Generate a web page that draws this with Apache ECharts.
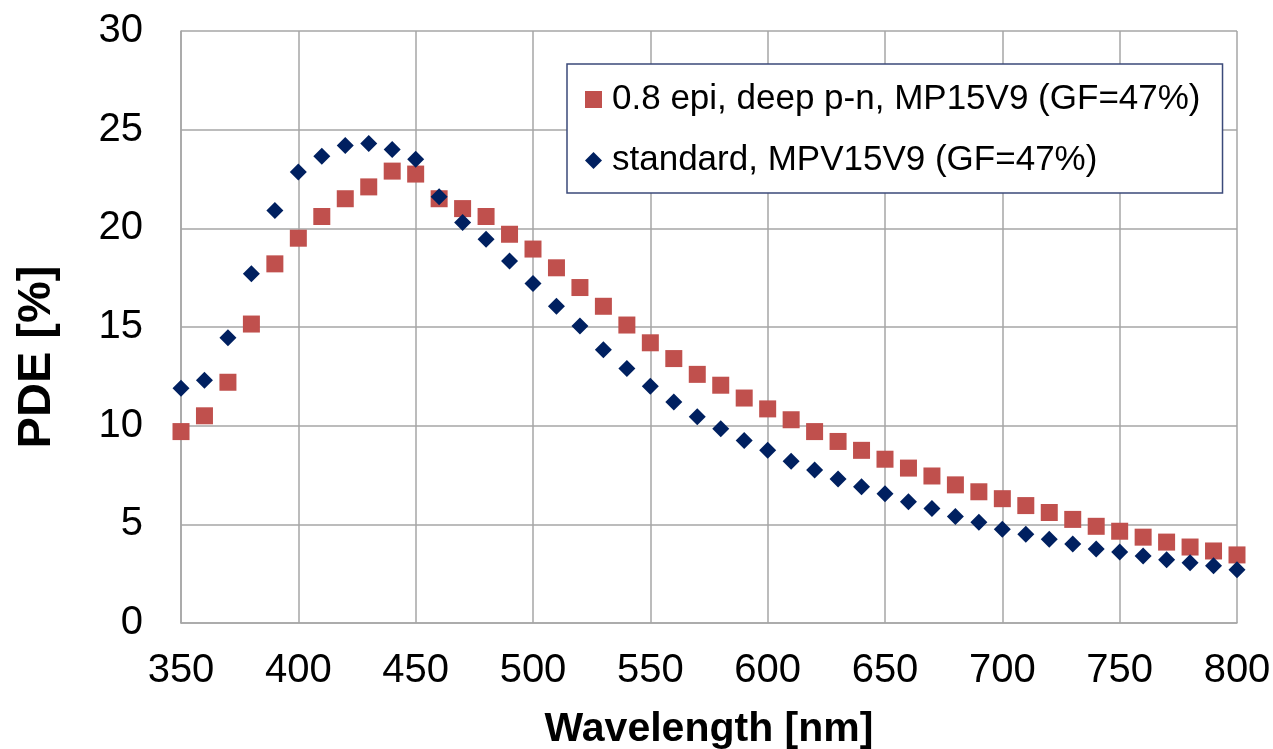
<!DOCTYPE html>
<html>
<head>
<meta charset="utf-8">
<title>PDE vs wavelength</title>
<script src="https://cdn.jsdelivr.net/npm/echarts@6/dist/echarts.min.js"></script>
<style>
  html, body { margin: 0; padding: 0; background: #fff; }
  #chart { width: 1273px; height: 749px; }
</style>
</head>
<body>
<div id="chart"></div>
<script>
// wavelength [nm]
var wavelength = [350, 360, 370, 380, 390, 400, 410, 420, 430, 440,
  450, 460, 470, 480, 490, 500, 510, 520, 530, 540,
  550, 560, 570, 580, 590, 600, 610, 620, 630, 640,
  650, 660, 670, 680, 690, 700, 710, 720, 730, 740,
  750, 760, 770, 780, 790, 800];

// 0.8 epi, deep p-n, MP15V9
var pdeEpi = [9.7, 10.5, 12.2, 15.15, 18.2, 19.5, 20.6, 21.5, 22.1, 22.9,
  22.75, 21.5, 21.0, 20.6, 19.7, 18.95, 18.0, 17.0, 16.05, 15.1,
  14.2, 13.4, 12.6, 12.05, 11.4, 10.85, 10.3, 9.7, 9.2, 8.75,
  8.3, 7.85, 7.45, 7.0, 6.65, 6.3, 5.95, 5.6, 5.25, 4.9,
  4.65, 4.35, 4.1, 3.85, 3.65, 3.45];

// standard, MPV15V9
var pdeStd = [11.9, 12.3, 14.45, 17.7, 20.9, 22.85, 23.65, 24.2, 24.3, 24.0,
  23.5, 21.6, 20.3, 19.45, 18.35, 17.2, 16.05, 15.05, 13.85, 12.9,
  12.0, 11.2, 10.45, 9.85, 9.25, 8.75, 8.2, 7.75, 7.3, 6.9,
  6.55, 6.15, 5.8, 5.4, 5.1, 4.75, 4.5, 4.25, 4.0, 3.75,
  3.6, 3.4, 3.2, 3.05, 2.9, 2.7];

var seriesNames = ['0.8 epi, deep p-n, MP15V9 (GF=47%)', 'standard, MPV15V9 (GF=47%)'];

function pairs(xs, ys) {
  var out = [];
  for (var i = 0; i < xs.length; i++) out.push([xs[i], ys[i]]);
  return out;
}

var font = 'Liberation Sans, Arial, sans-serif';
var gridColor = '#a6a6a6';

var chart = echarts.init(document.getElementById('chart'), null, { renderer: 'canvas' });

var option = {
  backgroundColor: '#ffffff',
  animation: false,
  grid: { left: 181, right: 36, top: 31, bottom: 126, outerBoundsMode: 'none', containLabel: false },
  legend: {
    orient: 'vertical',
    left: 567,
    top: 64,
    padding: [18, 22, 15, 18],
    itemGap: 26,
    itemWidth: 17,
    itemHeight: 17,
    backgroundColor: '#ffffff',
    borderColor: '#3b4a7a',
    borderWidth: 1.5,
    textStyle: { fontFamily: font, fontSize: 35, color: '#000', padding: [0, 0, 0, 5] },
    data: [
      { name: seriesNames[0], icon: 'rect' },
      { name: seriesNames[1], icon: 'diamond' }
    ]
  },
  xAxis: {
    type: 'value',
    min: 350,
    max: 800,
    interval: 50,
    name: 'Wavelength [nm]',
    nameLocation: 'middle',
    nameGap: 86,
    nameTextStyle: { fontFamily: font, fontSize: 41, fontWeight: 'bold', color: '#000' },
    axisLine: { show: true, lineStyle: { color: gridColor, width: 1.5 } },
    axisTick: { show: false },
    axisLabel: { fontFamily: font, fontSize: 40, color: '#000', margin: 28 },
    splitLine: { show: true, lineStyle: { color: gridColor, width: 1.5 } }
  },
  yAxis: {
    type: 'value',
    min: 0,
    max: 30,
    interval: 5,
    name: 'PDE [%]',
    nameLocation: 'middle',
    nameGap: 120,
    nameRotate: 90,
    nameTextStyle: { fontFamily: font, fontSize: 47, fontWeight: 'bold', color: '#000', padding: [0, 60, 0, 0] },
    axisLine: { show: true, lineStyle: { color: gridColor, width: 1.5 } },
    axisTick: { show: false },
    axisLabel: { fontFamily: font, fontSize: 40, color: '#000', margin: 38 },
    splitLine: { show: true, lineStyle: { color: gridColor, width: 1.5 } }
  },
  series: [
    {
      name: seriesNames[0],
      type: 'scatter',
      symbol: 'rect',
      symbolSize: 17,
      itemStyle: { color: '#c0504d', opacity: 1 },
      data: pairs(wavelength, pdeEpi),
      z: 2
    },
    {
      name: seriesNames[1],
      type: 'scatter',
      symbol: 'diamond',
      symbolSize: 17,
      itemStyle: { color: '#002060', opacity: 1 },
      data: pairs(wavelength, pdeStd),
      z: 3
    }
  ]
};

chart.setOption(option);
</script>
</body>
</html>
